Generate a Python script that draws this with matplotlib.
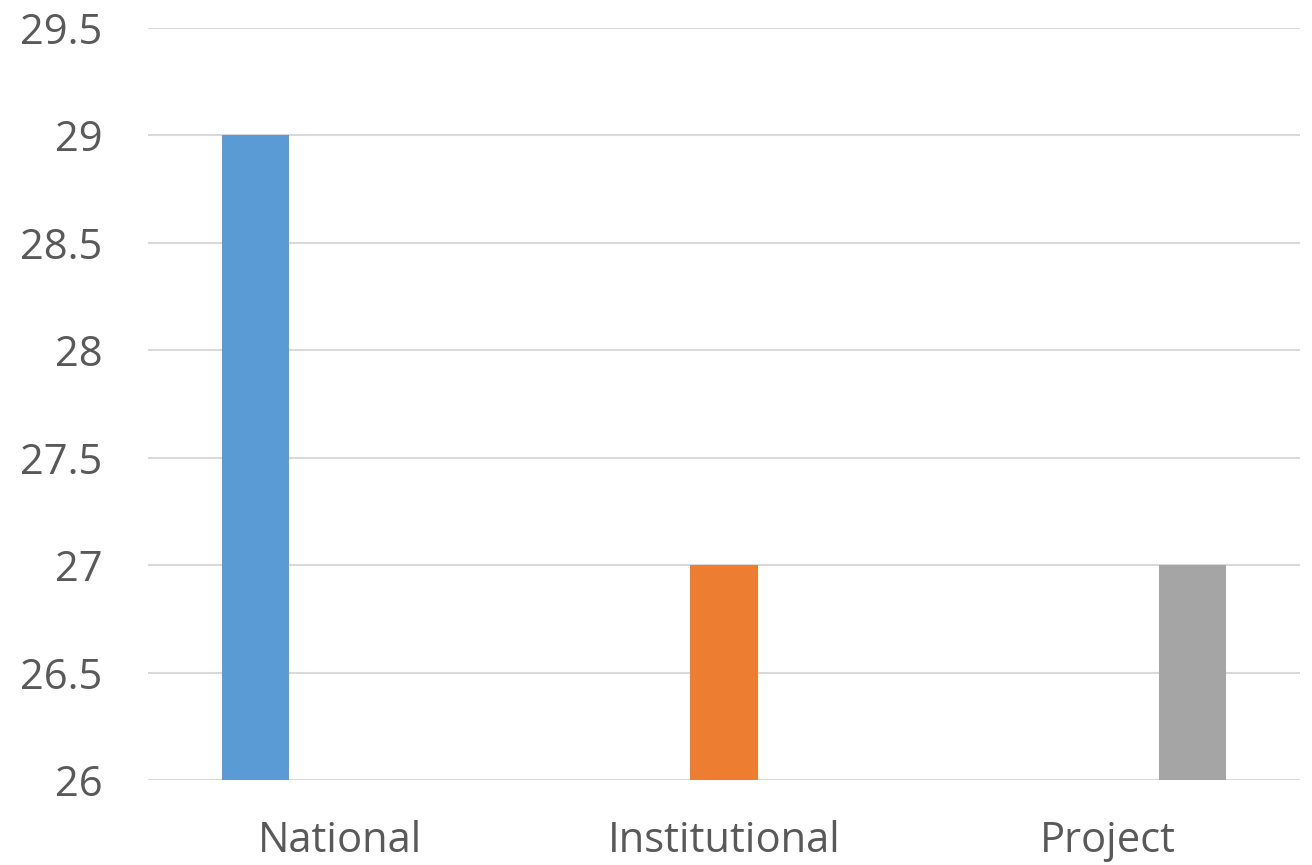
import matplotlib
matplotlib.use("Agg")
import matplotlib.pyplot as plt
import numpy as np

plt.rcParams['font.family'] = ['Open Sans', 'DejaVu Sans']

categories = ["National", "Institutional", "Project"]
values = [29, 27, 27]
colors = ["#5B9BD5", "#ED7D31", "#A5A5A5"]
yticks = [26, 26.5, 27, 27.5, 28, 28.5, 29, 29.5]

fig = plt.figure(figsize=(13.12, 8.65), dpi=100)
ax = fig.add_axes([148 / 1312, 1 - 780 / 865, 1152 / 1312, 752 / 865])

x = np.arange(len(categories))
offset = 0.22
width = 0.175
for i, v in enumerate(values):
    ax.bar(x[i] + (i - 1) * offset, v - 26, bottom=26, width=width, color=colors[i], zorder=3)

ax.set_xlim(-0.5, 2.5)
ax.set_ylim(26, 29.5)
ax.set_yticks(yticks)
ax.set_yticklabels([f"{t:g}" for t in yticks])
ax.set_xticks(x)
ax.set_xticklabels(categories)
ax.grid(axis='y', color="#D9D9D9", linewidth=1.5, zorder=0)
for s in ax.spines.values():
    s.set_visible(False)
ax.tick_params(length=0, labelsize=30, colors="#595959")
ax.tick_params(axis='y', pad=33)
ax.tick_params(axis='x', pad=29)

fig.savefig("out.png", dpi=100)
